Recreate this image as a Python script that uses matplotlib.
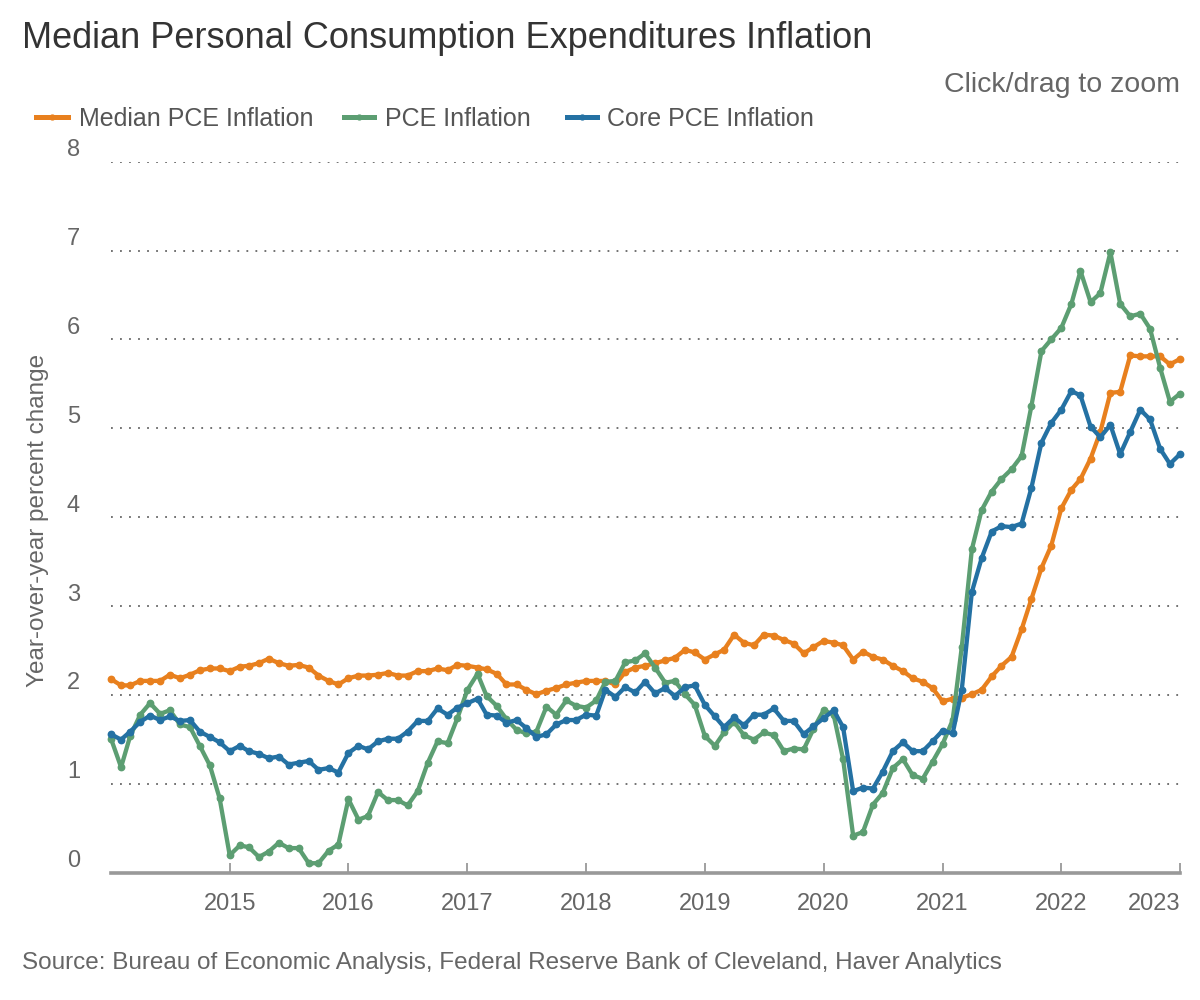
import pandas as pd
import matplotlib
matplotlib.use('Agg')
import matplotlib.pyplot as plt
import matplotlib.transforms as mtransforms
from matplotlib.lines import Line2D

plt.rcParams['font.family'] = ['Liberation Sans', 'DejaVu Sans']

# monthly observations, Jan 2014 .. Jan 2023
months = pd.date_range('2014-01-01', '2023-01-01', freq='MS')

median_pce = [
    2.18, 2.11, 2.11, 2.16, 2.16, 2.16, 2.23, 2.19, 2.23, 2.28, 2.30, 2.30,
    2.27, 2.32, 2.33, 2.36, 2.41, 2.36, 2.33, 2.34, 2.31, 2.22, 2.16, 2.12,
    2.19, 2.22, 2.22, 2.23, 2.25, 2.22, 2.22, 2.27, 2.27, 2.30, 2.28, 2.34,
    2.33, 2.31, 2.29, 2.24, 2.12, 2.12, 2.06, 2.01, 2.05, 2.08, 2.12, 2.14,
    2.16, 2.16, 2.16, 2.12, 2.26, 2.31, 2.33, 2.36, 2.39, 2.42, 2.51, 2.48,
    2.40, 2.46, 2.51, 2.68, 2.59, 2.56, 2.68, 2.67, 2.62, 2.58, 2.47, 2.54,
    2.61, 2.59, 2.56, 2.40, 2.49, 2.43, 2.40, 2.33, 2.27, 2.19, 2.15, 2.08,
    1.93, 1.96, 1.97, 2.01, 2.06, 2.21, 2.33, 2.43, 2.74, 3.08, 3.43, 3.68,
    4.10, 4.31, 4.43, 4.66, 4.96, 5.40, 5.41, 5.82, 5.81, 5.81, 5.81, 5.72,
    5.78,
]

pce = [
    1.51, 1.19, 1.54, 1.78, 1.91, 1.79, 1.83, 1.67, 1.64, 1.43, 1.21, 0.84,
    0.20, 0.31, 0.29, 0.18, 0.24, 0.34, 0.28, 0.28, 0.11, 0.11, 0.25, 0.32,
    0.83, 0.60, 0.64, 0.91, 0.82, 0.82, 0.76, 0.92, 1.24, 1.48, 1.46, 1.74,
    2.06, 2.24, 1.99, 1.88, 1.73, 1.61, 1.57, 1.59, 1.87, 1.78, 1.94, 1.88,
    1.86, 1.94, 2.15, 2.16, 2.37, 2.39, 2.47, 2.31, 2.14, 2.16, 2.01, 1.89,
    1.54, 1.43, 1.58, 1.70, 1.55, 1.50, 1.58, 1.55, 1.37, 1.40, 1.39, 1.62,
    1.83, 1.78, 1.28, 0.42, 0.46, 0.77, 0.90, 1.18, 1.28, 1.10, 1.06, 1.25,
    1.45, 1.72, 2.54, 3.64, 4.08, 4.29, 4.43, 4.54, 4.69, 5.25, 5.87, 6.00,
    6.13, 6.40, 6.77, 6.42, 6.52, 6.98, 6.40, 6.26, 6.29, 6.12, 5.68, 5.30,
    5.39,
]

core_pce = [
    1.56, 1.50, 1.59, 1.70, 1.77, 1.72, 1.76, 1.71, 1.72, 1.59, 1.53, 1.47,
    1.37, 1.43, 1.37, 1.34, 1.29, 1.31, 1.22, 1.24, 1.26, 1.16, 1.18, 1.13,
    1.35, 1.43, 1.39, 1.48, 1.51, 1.51, 1.59, 1.71, 1.71, 1.85, 1.78, 1.86,
    1.91, 1.96, 1.78, 1.77, 1.69, 1.72, 1.63, 1.53, 1.56, 1.67, 1.72, 1.72,
    1.78, 1.77, 2.06, 1.98, 2.09, 2.03, 2.15, 2.02, 2.08, 1.99, 2.09, 2.11,
    1.89, 1.76, 1.64, 1.75, 1.66, 1.78, 1.78, 1.85, 1.71, 1.71, 1.56, 1.65,
    1.74, 1.83, 1.64, 0.92, 0.96, 0.95, 1.14, 1.37, 1.47, 1.37, 1.37, 1.48,
    1.60, 1.57, 2.06, 3.16, 3.54, 3.84, 3.90, 3.89, 3.93, 4.33, 4.84, 5.06,
    5.21, 5.42, 5.37, 5.02, 4.90, 5.04, 4.71, 4.96, 5.21, 5.10, 4.77, 4.60,
    4.71,
]

series_names = ['Median PCE Inflation', 'PCE Inflation', 'Core PCE Inflation']
series_colors = ['#e8801e', '#5c9e72', '#2471a3']
y_ticks = [0, 1, 2, 3, 4, 5, 6, 7, 8]
year_ticks = list(range(2015, 2024))

W, H = 1200, 1000
fig = plt.figure(figsize=(12, 10), dpi=100)
left, right, bottom, top = 111, 1180, 873, 161.6
ax = fig.add_axes([left / W, 1 - bottom / H, (right - left) / W, (bottom - top) / H])

# dotted horizontal grid
for v in y_ticks[1:]:
    ax.axhline(v, color='#666666', lw=1.3, ls=(0, (1, 4)), zorder=1)

for vals, name, col in zip([median_pce, pce, core_pce], series_names, series_colors):
    ax.plot(months, vals, color=col, lw=3.1, marker='o', ms=4.6,
            label=name, clip_on=False, zorder=3, solid_joinstyle='round')

ax.set_xlim(months[0], months[-1])
ax.set_ylim(0, 8)

for s in ['top', 'right', 'left']:
    ax.spines[s].set_visible(False)
ax.spines['bottom'].set_color('#999999')
ax.spines['bottom'].set_linewidth(2.6)

ax.set_yticks([])
ax.set_xticks([pd.Timestamp(f'{y}-01-01') for y in year_ticks])
ax.set_xticklabels([str(y) for y in year_ticks])
ax.tick_params(axis='x', direction='in', length=7, width=1.3, color='#999999',
               labelsize=17, labelcolor='#666666', pad=14.5)
ax.get_xticklabels()[-1].set_ha('right')

# y labels sit just above their grid lines
ytrans = mtransforms.offset_copy(ax.get_yaxis_transform(), fig=fig, y=8.4, units='points')
for v in y_ticks:
    ax.text(-0.029, v, str(v), transform=ytrans, ha='right', va='center',
            fontsize=17, color='#666666')

fig.text(38 / W, 1 - 520 / H, 'Year-over-year percent change', rotation=90,
         ha='center', va='center', fontsize=17.5, color='#666666')

fig.text(22 / W, 1 - 39 / H, 'Median Personal Consumption Expenditures Inflation',
         ha='left', va='center', fontsize=26, color='#333333')
fig.text(1180 / W, 1 - 85 / H, 'Click/drag to zoom', ha='right', va='center',
         fontsize=20.5, color='#666666')

# legend drawn by hand
legend_pos = [(36, 68, 79), (344, 374, 385), (567, 597, 607)]
for (x0, x1, xt), name, col in zip(legend_pos, series_names, series_colors):
    yy = 1 - 117 / H
    fig.add_artist(Line2D([x0 / W, x1 / W], [yy, yy], color=col, lw=3.6,
                          transform=fig.transFigure))
    fig.add_artist(Line2D([(x0 + x1) / 2 / W], [yy], color=col, marker='o', ms=3.5,
                          transform=fig.transFigure))
    fig.text(xt / W, 1 - 119 / H, name, ha='left', va='center', fontsize=18, color='#555555')

fig.text(22 / W, 1 - 963 / H,
         'Source: Bureau of Economic Analysis, Federal Reserve Bank of Cleveland, Haver Analytics',
         ha='left', va='center', fontsize=17.5, color='#666666')

fig.savefig('out.png', dpi=100)
